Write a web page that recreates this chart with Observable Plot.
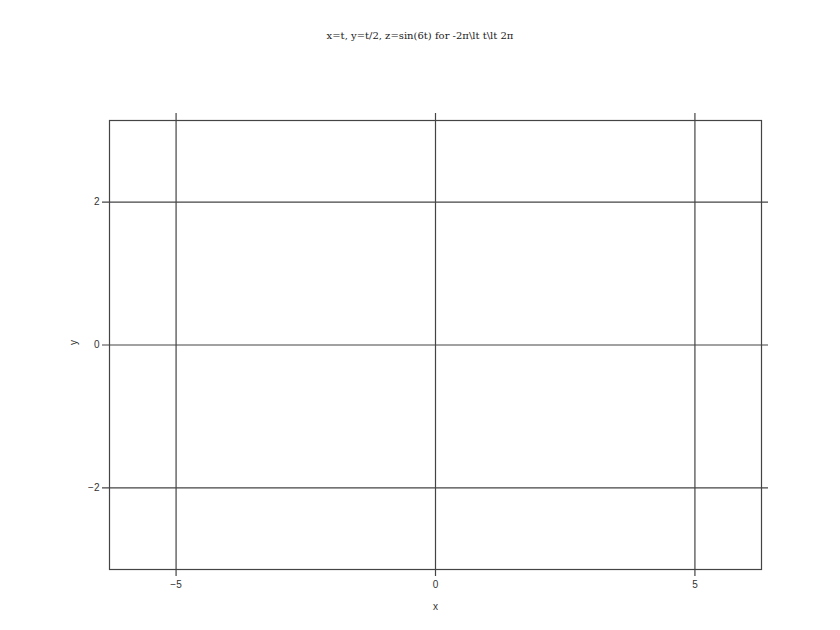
<!DOCTYPE html>
<html>
<head>
<meta charset="utf-8">
<script src="https://cdn.jsdelivr.net/npm/d3@7"></script>
<script src="https://cdn.jsdelivr.net/npm/@observablehq/plot@0.6"></script>
<style>
  html, body { margin: 0; padding: 0; background: #fff; }
  #wrap { position: relative; width: 840px; height: 630px; }
  #title { position: absolute; left: 0; top: 30px; width: 840px; text-align: center;
           font-family: "DejaVu Serif", "Liberation Serif", serif; font-size: 10px; color: #222; }
</style>
</head>
<body>
<div id="wrap">
  <div id="title"></div>
</div>
<script>
const titleText = "x=t, y=t/2, z=sin(6t) for -2π\\lt t\\lt 2π";
const xDomain = [-2 * Math.PI, 2 * Math.PI];
const yDomain = [-Math.PI, Math.PI];
const xTicks = [-5, 0, 5];
const yTicks = [-2, 0, 2];
const xLabel = "x";
const yLabel = "y";

document.getElementById("title").textContent = titleText;

const lineColor = "#444";
const chart = Plot.plot({
  width: 840,
  height: 630,
  marginLeft: 109,
  marginRight: 79,
  marginTop: 120,
  marginBottom: 61,
  style: { fontFamily: "'Liberation Sans', Arial, sans-serif", fontSize: "10px", color: "#333", background: "#fff" },
  x: { domain: xDomain },
  y: { domain: yDomain },
  marks: [
    Plot.ruleX(xTicks, { stroke: lineColor, strokeWidth: 1.2, insetTop: -7, insetBottom: -7 }),
    Plot.ruleY(yTicks, { stroke: lineColor, strokeWidth: 1.2, insetLeft: -7, insetRight: -7 }),
    Plot.frame({ stroke: lineColor, strokeWidth: 1.2 }),
    Plot.axisX(xTicks, { tickSize: 0, tickPadding: 11, label: null, fill: "#333", tickFormat: d3.format("d") }),
    Plot.axisY(yTicks, { tickSize: 0, tickPadding: 10, label: null, fill: "#333", tickFormat: d3.format("d") }),
    Plot.text([xLabel], { frameAnchor: "bottom", dy: 40, text: d => d, fill: "#333" }),
    Plot.text([yLabel], { frameAnchor: "left", dx: -36, rotate: -90, text: d => d, fill: "#333" })
  ]
});
document.getElementById("wrap").appendChild(chart);
</script>
</body>
</html>
